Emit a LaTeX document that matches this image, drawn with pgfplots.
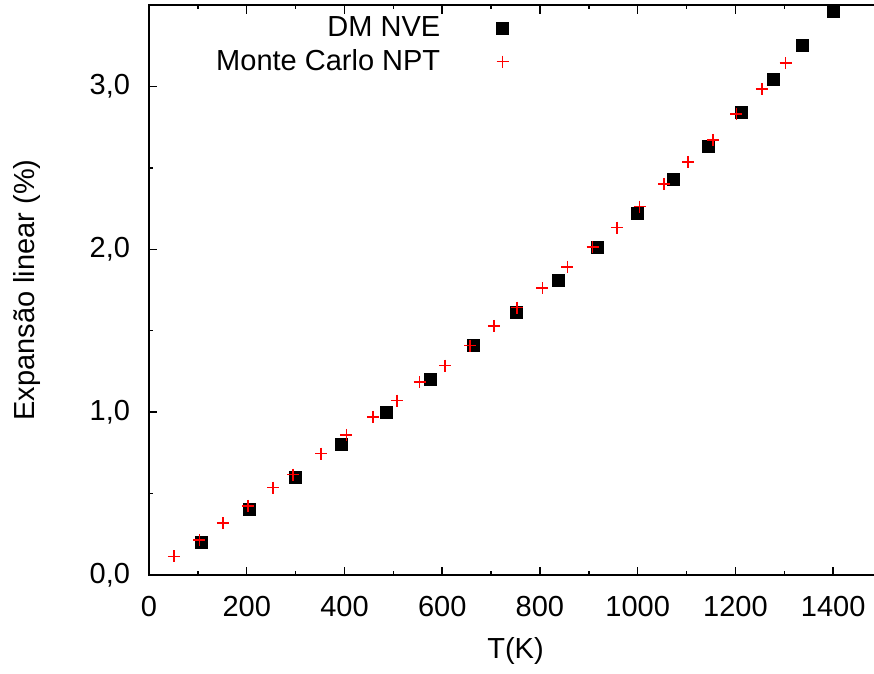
\documentclass[border=0pt]{standalone}
\usepackage{pgfplots}
\pgfplotsset{compat=1.18}
\usepackage{fontspec}
\setmainfont{Liberation Sans}
\pgfplotstableread{
T y
108 0.197
206 0.40
300 0.596
393 0.80
485 1.00
577 1.20
664 1.41
753 1.61
839 1.81
918 2.01
1000 2.22
1074 2.43
1144 2.63
1213 2.84
1278 3.04
1338 3.25
1401 3.46
}\dmnve
\pgfplotstableread{
T y
51 0.115
103 0.215
151 0.318
203 0.424
254 0.536
295 0.616
352 0.745
404 0.860
458 0.971
507 1.071
554 1.184
606 1.286
657 1.408
706 1.529
753 1.642
805 1.761
856 1.892
908 2.013
958 2.133
1004 2.262
1054 2.402
1103 2.537
1154 2.672
1202 2.832
1254 2.983
1303 3.143
}\mcnpt
\begin{document}
\begin{tikzpicture}[font=\fontsize{11.6bp}{13.9bp}\selectfont, trim left=-59.6bp, trim right=290bp]
\path (-59.6bp,-38bp) rectangle (290bp,230bp);
\begin{axis}[
  at={(0,0)}, anchor=south west,
  scale only axis, width=293.2bp, height=228bp,
  xmin=0, xmax=1500, ymin=0, ymax=3.5,
  xtick={0,200,...,1400}, ytick={0,1,2,3},
  minor x tick num=1, minor y tick num=1,
  tick align=inside, major tick length=3.4bp, minor tick length=1.7bp,
  axis line style={line width=0.7bp},
  every tick/.style={black, line width=0.6bp},
  scaled ticks=false,
  /pgf/number format/assume math mode=true,
  xticklabel style={/pgf/number format/1000 sep={}, yshift=-4.9bp},
  yticklabel style={/pgf/number format/fixed, /pgf/number format/fixed zerofill, /pgf/number format/precision=1, /pgf/number format/use comma, xshift=-4.1bp},
  xlabel={T(K)},
  ylabel={Expansão linear (\%)},
  every axis x label/.style={at={(axis description cs:0.5,-0.134)}, anchor=center},
  every axis y label/.style={at={(axis description cs:-0.166,0.5)}, rotate=90, anchor=center},
  legend plot pos=right,
  legend cell align=right,
  legend style={draw=none, fill=none, at={(axis cs:752,3.486)}, anchor=north east,
    nodes={inner sep=1.7bp}, column sep=20.8bp},
]
\addplot[only marks, mark=square*, mark size=2.4bp, black] table[x=T,y=y] {\dmnve};
\addlegendentry{DM NVE}
\addplot[only marks, mark=+, mark size=2.4bp, red, line width=0.6bp] table[x=T,y=y] {\mcnpt};
\addlegendentry{Monte Carlo NPT}
\end{axis}
\end{tikzpicture}
\end{document}
